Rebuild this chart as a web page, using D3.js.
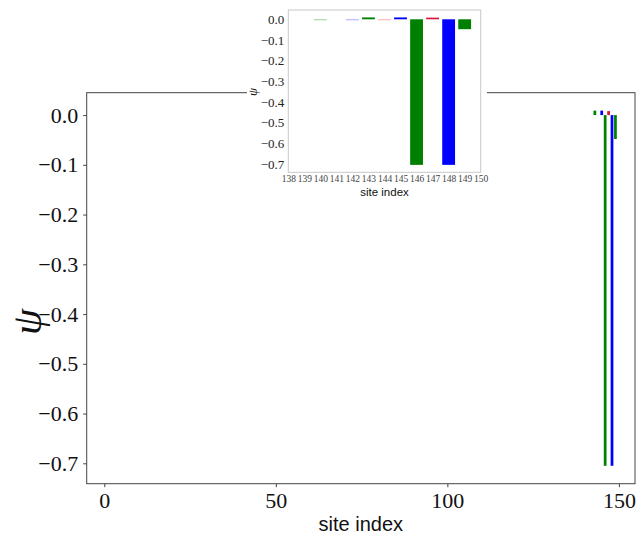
<!DOCTYPE html>
<html><head><meta charset="utf-8">
<script src="https://cdn.jsdelivr.net/npm/d3@7/dist/d3.min.js"></script>
<style>body{margin:0;background:#fff}svg{display:block}</style>
</head><body>
<svg id="c" width="642" height="538"></svg>
<script>
// data
const sites  = [140, 142, 143, 144, 145, 146, 147, 148, 149];
const psi    = [0.0002, 0.0002, 0.009, 0.0002, 0.009, -0.705, 0.008, -0.705, -0.048];
const colors = ["#8fd88f", "#a8a8ff", "green", "#ffaab8", "blue", "green", "#dc143c", "blue", "green"];
const mainXTicks = [0, 50, 100, 150];
const yTicks = [0.0, -0.1, -0.2, -0.3, -0.4, -0.5, -0.6, -0.7];
const insetXTicks = [138,139,140,141,142,143,144,145,146,147,148,149,150];

const data = sites.map((s,i)=>({s, v:psi[i], c:colors[i]}));
const svg = d3.select("#c");
const fmt = d => (d<0?"\u2212":"") + Math.abs(d).toFixed(1);
const serif = "'Liberation Serif', serif";
const sans = "'Liberation Sans', sans-serif";

// ---------- main axes ----------
const x = d3.scaleLinear().domain([-5.13, 154.7]).range([86.7, 635]);
const y = d3.scaleLinear().domain([-0.741, 0.045]).range([483.7, 92.7]);
const w = 0.8;

const g = svg.append("g");
g.selectAll("rect.bar").data(data).enter().append("rect")
  .attr("x", d=>x(d.s - w/2)).attr("width", d=>x(d.s + w/2)-x(d.s - w/2))
  .attr("y", d=>y(Math.max(0,d.v))).attr("height", d=>Math.abs(y(d.v)-y(0)))
  .attr("fill", d=>d.c);

const yAx = g.append("g").attr("transform","translate(86.7,0)")
  .call(d3.axisLeft(y).tickValues(yTicks).tickFormat(fmt).tickSize(3.5).tickPadding(5));
yAx.selectAll("text").attr("font-family", serif).attr("font-size", 22).attr("fill","#111");
const xAx = g.append("g").attr("transform","translate(0,483.7)")
  .call(d3.axisBottom(x).tickValues(mainXTicks).tickFormat(d3.format("d")).tickSize(3.5).tickPadding(5));
xAx.selectAll("text").attr("font-family", serif).attr("font-size", 22).attr("fill","#111");
[yAx,xAx].forEach(a=>{a.select(".domain").remove(); a.selectAll("line").attr("stroke","#444");});

g.append("rect").attr("x",86.7).attr("y",92.7).attr("width",635-86.7).attr("height",483.7-92.7)
  .attr("fill","none").attr("stroke","#444").attr("stroke-width",1);

g.append("text").attr("x",(86.7+635)/2).attr("y",531).attr("text-anchor","middle")
  .attr("font-family",sans).attr("font-size",20).attr("fill","#111").text("site index");
g.append("text").attr("transform","translate(41,322) rotate(-90)").attr("text-anchor","middle")
  .attr("font-family",serif).attr("font-style","italic").attr("font-size",42).attr("fill","#111").text("\u03C8");

// ---------- inset ----------
svg.append("rect").attr("x",247).attr("y",0).attr("width",240).attr("height",200).attr("fill","#fff");
const xi = d3.scaleLinear().domain([138,150]).range([288.3,480.7]);
const yi = d3.scaleLinear().domain([-0.741,0.045]).range([172.3,10]);
const gi = svg.append("g");
gi.selectAll("rect.bar").data(data).enter().append("rect")
  .attr("x", d=>xi(d.s - w/2)).attr("width", d=>xi(d.s + w/2)-xi(d.s - w/2))
  .attr("y", d=>yi(Math.max(0,d.v))).attr("height", d=>Math.max(1,Math.abs(yi(d.v)-yi(0))))
  .attr("fill", d=>d.c);
gi.append("rect").attr("x",288.3).attr("y",10).attr("width",480.7-288.3).attr("height",172.3-10)
  .attr("fill","none").attr("stroke","#c8c8c8").attr("stroke-width",1);
const yiAx = gi.append("g").attr("transform","translate(288.3,0)")
  .call(d3.axisLeft(yi).tickValues(yTicks).tickFormat(fmt).tickSize(0).tickPadding(4));
yiAx.selectAll("text").attr("font-family", serif).attr("font-size", 13).attr("fill","#222");
const xiAx = gi.append("g").attr("transform","translate(0,172.3)")
  .call(d3.axisBottom(xi).tickValues(insetXTicks).tickFormat(d3.format("d")).tickSize(0).tickPadding(3));
xiAx.selectAll("text").attr("font-family", serif).attr("font-size", 9.5).attr("fill","#444");
[yiAx,xiAx].forEach(a=>a.select(".domain").remove());
gi.append("text").attr("x",384.5).attr("y",196).attr("text-anchor","middle")
  .attr("font-family",sans).attr("font-size",11.5).attr("fill","#111").text("site index");
gi.append("text").attr("transform","translate(257,92) rotate(-90)").attr("text-anchor","middle")
  .attr("font-family",serif).attr("font-style","italic").attr("font-size",13).attr("fill","#111").text("\u03C8");
</script>
</body></html>
